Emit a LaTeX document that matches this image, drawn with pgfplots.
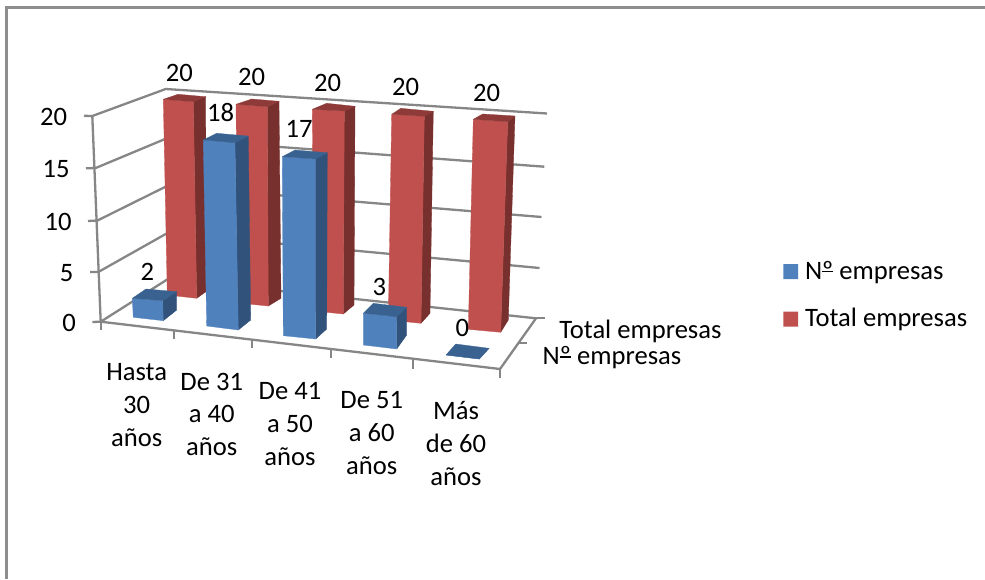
\documentclass[border=0pt]{standalone}
\usepackage{pgfplots}
\usepackage{pgfplotstable}
\usepackage{fontspec}
\setmainfont{Carlito}
\pgfplotsset{compat=1.18}

\definecolor{gridgray}{HTML}{868686}
\definecolor{framegray}{HTML}{8E8E8E}
\definecolor{bluefront}{HTML}{4F81BD}
\definecolor{blueside}{HTML}{31527B}
\definecolor{bluetop}{HTML}{3A6291}
\definecolor{redfront}{HTML}{C0504D}
\definecolor{redside}{HTML}{78302E}
\definecolor{redtop}{HTML}{8E3A38}

% Masculine ordinal with its underline
\newcommand{\ordo}{{\setbox0=\hbox{º}\rlap{\rule[0.25em]{\wd0}{0.055em}}\box0}}

% One row per column of the 3D chart: v is the value; every corner (FL, FR, BR, BL)
% has its position on the floor (xb,yb) and at the height of 20 (xt,yt);
% lx,ly place the value label.
\pgfplotstableread{
v  FLxb  FLyb  FLxt  FLyt  FRxb  FRyb  FRxt  FRyt  BRxb  BRyb  BRxt  BRyt  BLxb BLyb BLxt  BLyt  lx    ly
20 167.3 295   163.3 99.3  196.7 298.3 193.3 101.7 206   291.7 205.7 96.7  179  288  178   94.3  179.3 72.7
20 238   303   236   104.3 268.3 306   267.3 106.7 281   298.3 279   101.3 253  296  251.7 99    251.7 76.7
20 314   311   312.3 109.3 343.3 314   344.3 111   354   305   355   106.3 326  303  326.7 103.3 327.7 82.7
20 388.3 320   391.7 114.3 421   323.3 424.3 116.3 430   313.3 433.3 111.3 398  311  400.7 108.3 405.7 86.7
20 468.3 329.3 473.3 119.3 500.7 332.3 507.7 121.7 508.3 320   515   116   477  318  482.7 114   486.7 92.7
}\totalempresas

\pgfplotstableread{
v  FLxb  FLyb  FLxt  FLyt  FRxb  FRyb  FRxt  FRyt  BRxb  BRyb  BRxt  BRyt  BLxb BLyb BLxt  BLyt  lx    ly
2  133.3 317.3 123.3 127.3 163.3 320.7 157.3 120.7 176.7 310   176.7 127   146.5 308 141   118   147.3 271.7
18 206.7 326   202.9 119.3 238.3 330   234.6 121.9 250.7 320   248   115.6 220  316  216.3 113   220.7 112.7
17 283.3 335.7 282.1 125.1 315.7 339   315.7 127.2 326.7 329   327.4 121.6 295  326  295   119   299   129.3
3  363.3 345   363.3 133.7 396.7 349   396.7 133.7 406.7 335   406.7 150.3 373.3 332 373.3 140.7 379.3 286.7
0  446   355   451   145   479.3 359   484.3 149   489   348.3 494   138.3 455.7 344 460.7 134  462.3 328.3
}\numempresas

% Fetches one corner of a column: floor position and position at the column's value.
\newcommand{\readcorner}[3]{%
  \pgfplotstablegetelem{#2}{v}\of{#1}\let\barval\pgfplotsretval
  \pgfplotstablegetelem{#2}{#3xb}\of{#1}\let\xb\pgfplotsretval
  \pgfplotstablegetelem{#2}{#3yb}\of{#1}\let\yb\pgfplotsretval
  \pgfplotstablegetelem{#2}{#3xt}\of{#1}\let\xt\pgfplotsretval
  \pgfplotstablegetelem{#2}{#3yt}\of{#1}\let\yt\pgfplotsretval
  \pgfmathsetmacro\xv{\xb+(\xt-\xb)*\barval/20}%
  \pgfmathsetmacro\yv{\yb+(\yt-\yb)*\barval/20}%
  \expandafter\let\csname #3bx\endcsname\xb
  \expandafter\let\csname #3by\endcsname\yb
  \expandafter\let\csname #3vx\endcsname\xv
  \expandafter\let\csname #3vy\endcsname\yv
}

% Draws side, front and top faces of one column, then its value label.
\newcommand{\drawcolumn}[5]{%
  \readcorner{#1}{#2}{FL}\readcorner{#1}{#2}{FR}\readcorner{#1}{#2}{BR}\readcorner{#1}{#2}{BL}%
  \addplot[fill=#4,draw=#4,line width=.3pt] coordinates
    {(\FRbx,\FRby) (\BRbx,\BRby) (\BRvx,\BRvy) (\FRvx,\FRvy) (\FRbx,\FRby)};
  \addplot[fill=#3,draw=#3,line width=.3pt] coordinates
    {(\FLbx,\FLby) (\FRbx,\FRby) (\FRvx,\FRvy) (\FLvx,\FLvy) (\FLbx,\FLby)};
  \addplot[fill=#5,draw=#5,line width=.3pt] coordinates
    {(\FLvx,\FLvy) (\FRvx,\FRvy) (\BRvx,\BRvy) (\BLvx,\BLvy) (\FLvx,\FLvy)};
  \pgfplotstablegetelem{#2}{lx}\of{#1}\let\lx\pgfplotsretval
  \pgfplotstablegetelem{#2}{ly}\of{#1}\let\ly\pgfplotsretval
  \edef\valuelabel{\noexpand\node[lab] at (axis cs:\lx,\ly) {\barval};}%
  \valuelabel
}

\newcommand{\gridline}[2]{\addplot[gridgray,line width=2.3pt] coordinates {#1 #2};}

\tikzset{
  lab/.style={inner sep=0pt,outer sep=0pt,text=black,
    font=\fontsize{26.6pt}{33pt}\selectfont},
  baselab/.style={lab,anchor=base},
  westlab/.style={lab,anchor=base west},
}

\begin{document}
\begin{tikzpicture}[x=1pt,y=1pt]
\useasboundingbox (0,0) rectangle (985pt,579pt);
\begin{axis}[
  at={(0pt,0pt)},anchor=south west,
  scale only axis,width=985pt,height=579pt,
  xmin=0,xmax=985,ymin=0,ymax=579,y dir=reverse,
  hide axis,clip=false,
]
% outer frame
\addplot[framegray,line width=2.7pt] coordinates {(6.4,579) (6.4,7.3) (985,7.3)};

% left wall and back wall gridlines, with the ticks of the value axis
\gridline{(84,115.8) (92.3,116)}{(165.7,89) (547,113.5)}
\gridline{(86,168.3) (95.7,168)}{(166.3,138.5) (544.3,166.7)}
\gridline{(88,221) (97.5,220.5)}{(167,186) (541.5,217)}
\gridline{(90,272) (98.3,272)}{(167.5,233) (539.5,268)}
\gridline{(92.3,322) (100.7,321.7)}{(168,279) (536,318.3)}
% value axis
\gridline{(92.3,116)}{(100.7,321.7)}
% floor edges and their ticks
\gridline{(100.7,321.7)}{(500,369)}
\gridline{(500,369)}{(536,318.3)}
\gridline{(536,318.3)}{(545,318.3)}
\gridline{(518,343)}{(527,343)}
\gridline{(100.7,321.7)}{(100.7,330)}
\gridline{(174.3,330.4)}{(174.3,339)}
\gridline{(251.7,339.6)}{(251.7,348)}
\gridline{(330.7,349)}{(330.7,358)}
\gridline{(413.3,358.8)}{(413.3,368.5)}
\gridline{(500,369)}{(500,378)}

% back row first, then the front row
\pgfplotsinvokeforeach{0,...,4}{\drawcolumn{\totalempresas}{#1}{redfront}{redside}{redtop}}
\pgfplotsinvokeforeach{0,...,4}{\drawcolumn{\numempresas}{#1}{bluefront}{blueside}{bluetop}}

% value axis labels
\node[lab] at (axis cs:53.7,116.7) {20};
\node[lab] at (axis cs:56,169) {15};
\node[lab] at (axis cs:58,222) {10};
\node[lab] at (axis cs:66.7,273.3) {5};
\node[lab] at (axis cs:69,322.7) {0};

% category labels
\node[baselab] at (axis cs:136.7,380) {Hasta};
\node[baselab] at (axis cs:136.7,413.3) {30};
\node[baselab] at (axis cs:136.7,446) {años};
\node[baselab] at (axis cs:211.7,390) {De 31};
\node[baselab] at (axis cs:211.7,422.7) {a 40};
\node[baselab] at (axis cs:211.7,455) {años};
\node[baselab] at (axis cs:290,399.3) {De 41};
\node[baselab] at (axis cs:290,432) {a 50};
\node[baselab] at (axis cs:290,465) {años};
\node[baselab] at (axis cs:371.7,408.3) {De 51};
\node[baselab] at (axis cs:371.7,441.7) {a 60};
\node[baselab] at (axis cs:371.7,474) {años};
\node[baselab] at (axis cs:456,419.3) {Más};
\node[baselab] at (axis cs:456,452.3) {de 60};
\node[baselab] at (axis cs:456,485) {años};

% depth axis labels
\node[westlab] at (axis cs:559.3,338.3) {Total empresas};
\node[westlab] at (axis cs:542.7,364.3) {N\ordo{} empresas};

% legend
\addplot[fill=bluefront,draw=none] coordinates {(783.3,264) (798,264) (798,279) (783.3,279) (783.3,264)};
\node[westlab] at (axis cs:805,279) {N\ordo{} empresas};
\addplot[fill=redfront,draw=none] coordinates {(783.3,311.7) (798,311.7) (798,326.7) (783.3,326.7) (783.3,311.7)};
\node[westlab] at (axis cs:805,326.7) {Total empresas};
\end{axis}
\end{tikzpicture}
\end{document}
